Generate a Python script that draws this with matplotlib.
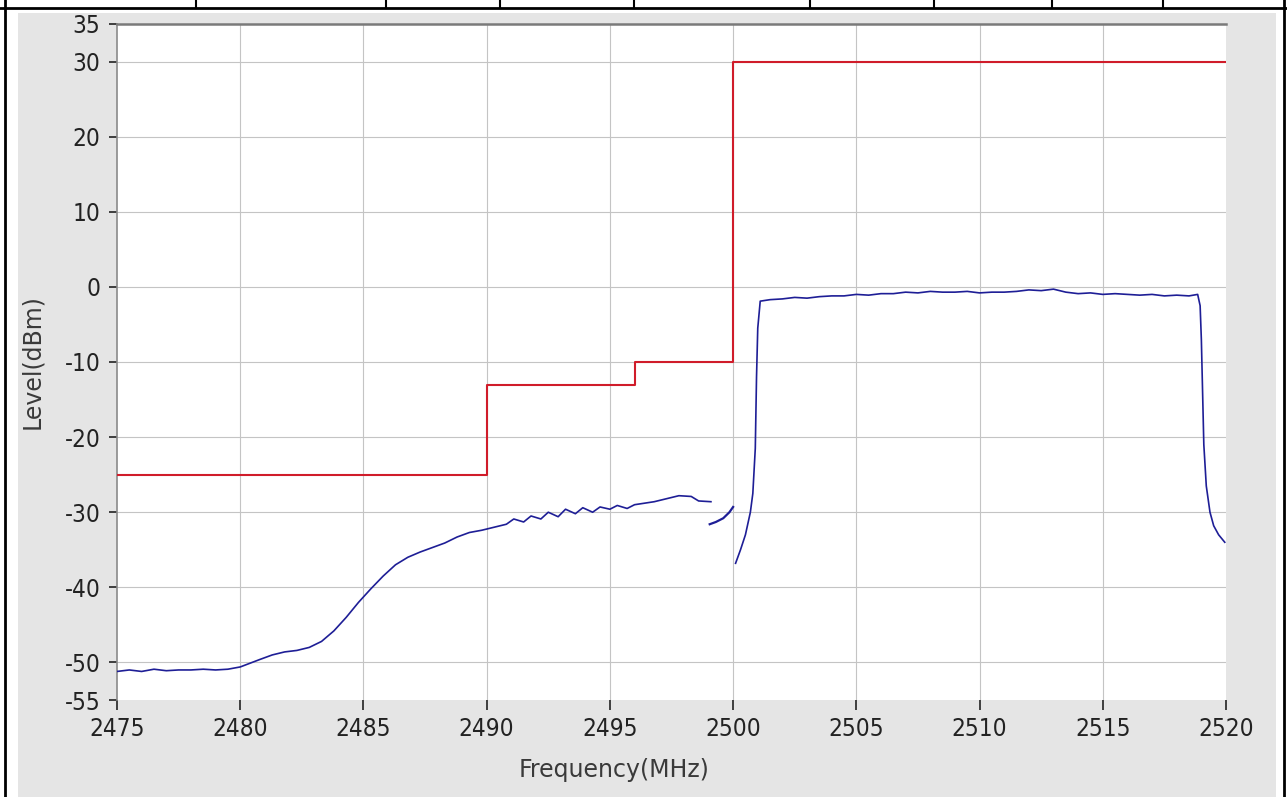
import numpy as np
import matplotlib
matplotlib.use("Agg")
import matplotlib.pyplot as plt
from matplotlib.patches import Rectangle
from matplotlib.lines import Line2D

plt.rcParams["axes.unicode_minus"] = False

# limit mask (red)
limit_freq = [2475, 2490, 2490, 2496, 2496, 2500, 2500, 2520]
limit_level = [-25, -25, -13, -13, -10, -10, 30, 30]

# measured trace, lower band (blue)
low_freq = [2475.0, 2475.5, 2476.0, 2476.5, 2477.0, 2477.5, 2478.0, 2478.5, 2479.0, 2479.5,
            2480.0, 2480.4, 2480.8, 2481.3, 2481.8, 2482.3, 2482.8, 2483.3, 2483.8, 2484.3,
            2484.8, 2485.3, 2485.8, 2486.3, 2486.8, 2487.3, 2487.8, 2488.3, 2488.8, 2489.3,
            2489.8, 2490.3, 2490.8, 2491.1, 2491.5, 2491.8, 2492.2, 2492.5, 2492.9, 2493.2,
            2493.6, 2493.9, 2494.3, 2494.6, 2495.0, 2495.3, 2495.7, 2496.0, 2496.4, 2496.8,
            2497.3, 2497.8, 2498.3, 2498.6, 2499.1]
low_level = [-51.2, -51.0, -51.2, -50.9, -51.1, -51.0, -51.0, -50.9, -51.0, -50.9,
             -50.6, -50.1, -49.6, -49.0, -48.6, -48.4, -48.0, -47.2, -45.8, -44.0,
             -42.0, -40.2, -38.5, -37.0, -36.0, -35.3, -34.7, -34.1, -33.3, -32.7,
             -32.4, -32.0, -31.6, -30.9, -31.3, -30.5, -30.9, -30.0, -30.6, -29.6,
             -30.2, -29.4, -30.0, -29.3, -29.6, -29.1, -29.5, -29.0, -28.8, -28.6,
             -28.2, -27.8, -27.9, -28.5, -28.6]

# short segment just below 2500 MHz
mid_freq = [2499.05, 2499.3, 2499.6, 2499.85, 2500.0]
mid_level = [-31.6, -31.3, -30.8, -30.0, -29.3]

# in-band signal
band_freq = [2500.1, 2500.3, 2500.5, 2500.7, 2500.8, 2500.9, 2500.95, 2501.0, 2501.1, 2501.5,
             2502.0, 2502.5, 2503.0, 2503.5, 2504.0, 2504.5, 2505.0, 2505.5, 2506.0, 2506.5,
             2507.0, 2507.5, 2508.0, 2508.5, 2509.0, 2509.5, 2510.0, 2510.5, 2511.0, 2511.5,
             2512.0, 2512.5, 2513.0, 2513.5, 2514.0, 2514.5, 2515.0, 2515.5, 2516.0, 2516.5,
             2517.0, 2517.5, 2518.0, 2518.5, 2518.85, 2518.95, 2519.0, 2519.1, 2519.2, 2519.35,
             2519.5, 2519.7, 2519.95]
band_level = [-36.8, -35.0, -33.0, -30.0, -27.5, -21.5, -12.0, -5.5, -1.9, -1.7,
              -1.6, -1.4, -1.5, -1.3, -1.2, -1.2, -1.0, -1.1, -0.9, -0.9,
              -0.7, -0.8, -0.6, -0.7, -0.7, -0.6, -0.8, -0.7, -0.7, -0.6,
              -0.4, -0.5, -0.3, -0.7, -0.9, -0.8, -1.0, -0.9, -1.0, -1.1,
              -1.0, -1.2, -1.1, -1.2, -1.0, -2.5, -7.0, -21.0, -26.5, -30.0,
              -31.8, -33.0, -34.0]

x_ticks = [2475, 2480, 2485, 2490, 2495, 2500, 2505, 2510, 2515, 2520]
y_ticks = [35, 30, 20, 10, 0, -10, -20, -30, -40, -50, -55]
y_grid = [30, 20, 10, 0, -10, -20, -30, -40, -50]

W, H = 1287, 797
fig = plt.figure(figsize=(W / 100, H / 100), dpi=100)
fig.patch.set_facecolor("white")

# grey panel behind the chart
fig.patches.append(Rectangle((18 / W, 0), (1276 - 18) / W, 1 - 13 / H,
                             transform=fig.transFigure, facecolor="#e5e5e5",
                             edgecolor="none", zorder=-5))
# table borders
def fline(x0, y0, x1, y1, lw=2.0):
    fig.lines.append(Line2D([x0 / W, x1 / W], [1 - y0 / H, 1 - y1 / H],
                            transform=fig.transFigure, color="black", lw=lw, zorder=-4))

fline(0, 8, W, 8, lw=2.0)
fline(5, 0, 5, H, lw=2.0)
fline(1284, 0, 1284, H, lw=2.0)
for xc in [196, 386, 500, 634, 810, 934, 1052, 1163]:
    fline(xc, 0, xc, 8, lw=1.5)

ax = fig.add_axes([117 / W, 1 - 700 / H, (1226 - 117) / W, (700 - 24) / H])
ax.set_facecolor("white")

for g in x_ticks[1:-1]:
    ax.axvline(g, color="#c4c4c4", lw=0.8, zorder=1)
for g in y_grid:
    ax.axhline(g, color="#c4c4c4", lw=0.8, zorder=1)

ax.plot(limit_freq, limit_level, color="#d01c2a", lw=1.5, zorder=3)
ax.plot(low_freq, low_level, color="#1e1e96", lw=1.2, zorder=4)
ax.plot(mid_freq, mid_level, color="#1e1e96", lw=1.6, zorder=4)
ax.plot(band_freq, band_level, color="#1e1e96", lw=1.2, zorder=4)

ax.set_xlim(2475, 2520)
ax.set_ylim(-55, 35)
ax.set_xticks(x_ticks)
ax.set_yticks(y_ticks)

for s in ["right", "bottom"]:
    ax.spines[s].set_visible(False)
ax.spines["top"].set_color("#7a7a7a")
ax.spines["top"].set_linewidth(1.8)
ax.spines["left"].set_color("#8a8a8a")
ax.spines["left"].set_linewidth(1.2)

ax.tick_params(axis="both", direction="out", colors="#222222", labelcolor="#222222")
ax.tick_params(axis="y", length=6, width=1.2, pad=6)
ax.tick_params(axis="x", length=7, width=1.2, pad=5)
for lab in ax.get_xticklabels() + ax.get_yticklabels():
    lab.set_family("DejaVu Sans")
    lab.set_stretch("condensed")
    lab.set_fontsize(17.5)

ax.set_xlabel("Frequency(MHz)", fontsize=17, color="#3a3a3a", family="DejaVu Sans")
ax.xaxis.set_label_coords((614 - 117) / 1109, -0.086)
ax.set_ylabel("Level(dBm)", fontsize=17, color="#3a3a3a", family="DejaVu Sans")
ax.yaxis.set_label_coords(-0.066, 0.5)

fig.savefig("out.png", dpi=100)
